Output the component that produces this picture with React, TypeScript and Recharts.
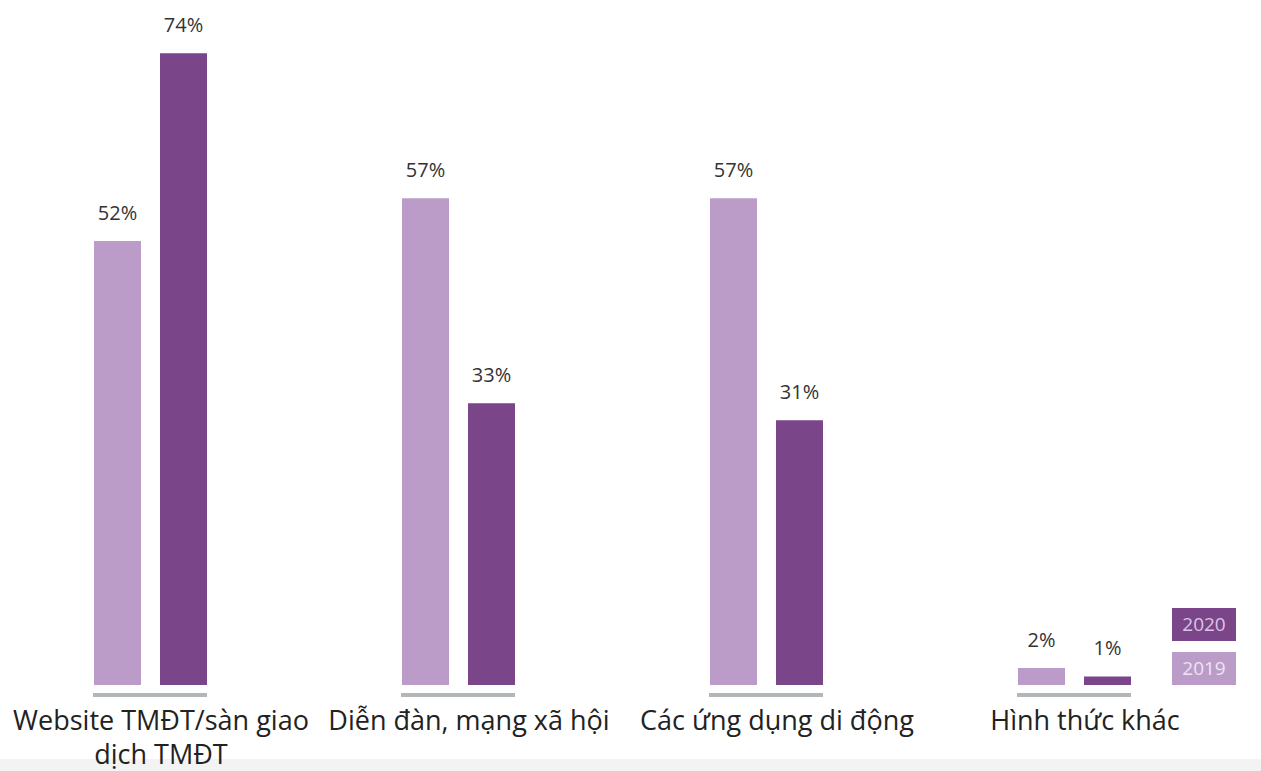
import React from 'react';
import { BarChart, Bar, XAxis, YAxis, Legend, LabelList } from 'recharts';

const categories = [
  ['Website TMĐT/sàn giao', 'dịch TMĐT'],
  ['Diễn đàn, mạng xã hội'],
  ['Các ứng dụng di động'],
  ['Hình thức khác'],
];
const values2019 = [52, 57, 57, 2];
const values2020 = [74, 33, 31, 1];
const seriesNames = ['2020', '2019'];

const LIGHT = '#bb9cc9';
const DARK = '#7b4589';

const data = categories.map((lines, i) => ({
  name: lines.join(' '),
  y2019: values2019[i],
  y2020: values2020[i],
}));

function CategoryTick(props: any) {
  const { x, y, index } = props;
  const lines = categories[index] || [];
  return (
    <g>
      <rect x={x - 57} y={y + 8} width={114} height={4} fill="#b3b6b9" />
      <text x={x + 11} y={y + 45} textAnchor="middle" fontSize={27} fill="#222">
        {lines.map((l, i) => (
          <tspan key={i} x={x + 11} dy={i === 0 ? 0 : 34}>
            {l}
          </tspan>
        ))}
      </text>
    </g>
  );
}

function LegendBoxes() {
  return (
    <div>
      {seriesNames.map((s) => (
        <div
          key={s}
          style={{
            width: 64,
            height: 33,
            marginBottom: 11,
            background: s === '2020' ? DARK : LIGHT,
            color: s === '2020' ? '#d9c6e2' : '#eee3f3',
            fontSize: 19,
            lineHeight: '33px',
            textAlign: 'center',
          }}
        >
          {s}
        </div>
      ))}
    </div>
  );
}

export default function App() {
  return (
    <div style={{ position: 'absolute', left: 0, top: 0, width: 1261, height: 771, background: '#fff', overflow: 'hidden' }}>
      <div style={{ position: 'absolute', left: 0, top: 759, width: 1261, height: 12, background: '#f3f3f3' }} />
      <div style={{ position: 'absolute', left: -4, top: 0, fontFamily: '"Open Sans", sans-serif' }}>
        <BarChart
          width={1262}
          height={771}
          data={data}
          margin={{ top: 2, right: 30, bottom: 56, left: 0 }}
          barSize={47}
          barGap={19}
        >
          <XAxis dataKey="name" height={30} axisLine={false} tickLine={false} tickSize={0} tickMargin={0} interval={0} tick={<CategoryTick />} />
          <YAxis hide domain={[0, 80]} />
          <Legend
            layout="vertical"
            align="center"
            verticalAlign="middle"
            wrapperStyle={{ left: 1176, top: 608, width: 64 }}
            content={<LegendBoxes />}
          />
          <Bar dataKey="y2019" name="2019" fill={LIGHT} isAnimationActive={false}>
            <LabelList dataKey="y2019" position="top" offset={21} fontSize={20} fill="#333" formatter={(v: any) => `${v}%`} />
          </Bar>
          <Bar dataKey="y2020" name="2020" fill={DARK} isAnimationActive={false}>
            <LabelList dataKey="y2020" position="top" offset={21} fontSize={20} fill="#333" formatter={(v: any) => `${v}%`} />
          </Bar>
        </BarChart>
      </div>
    </div>
  );
}
